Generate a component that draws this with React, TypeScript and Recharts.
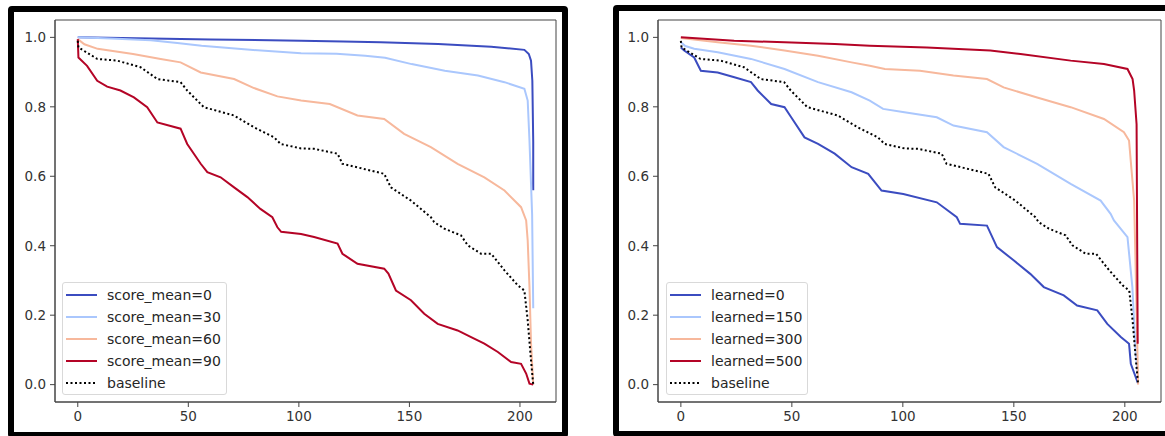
import { LineChart, Line, XAxis, YAxis, ReferenceArea, Legend } from 'recharts';

type Pt = { x: number; y: number };
const pts = (rows: number[][]): Pt[] => rows.map(([x, y]) => ({ x, y }));

// ---- left panel: score_mean ----
const scoreMean0 = pts([
  [0, 1.0], [20, 0.998], [40, 0.996], [60, 0.994], [87, 0.992], [101, 0.99], [120, 0.988],
  [137, 0.986], [163, 0.981], [187, 0.973], [202, 0.964], [204, 0.952], [205, 0.933],
  [205.6, 0.875], [206, 0.7], [206, 0.56],
]);
const scoreMean30 = pts([
  [0, 1.0], [15, 0.997], [33, 0.992], [45, 0.984], [56, 0.976], [78, 0.964], [101, 0.954],
  [117, 0.953], [130, 0.947], [139, 0.941], [151, 0.923], [166, 0.904], [181, 0.89],
  [193, 0.871], [202, 0.852], [203.5, 0.818], [204.3, 0.703], [205.5, 0.49], [206, 0.22],
]);
const scoreMean60 = pts([
  [0, 0.995], [3, 0.98], [9, 0.967], [25, 0.952], [37.5, 0.938], [46.5, 0.928], [55.6, 0.899],
  [70.7, 0.88], [79.7, 0.854], [90.3, 0.83], [101, 0.818], [114, 0.808], [126.5, 0.775],
  [138.6, 0.765], [147.6, 0.722], [159.7, 0.684], [171.8, 0.636], [183.9, 0.597], [193, 0.559],
  [200.5, 0.511], [202.8, 0.473], [203.5, 0.415], [204.3, 0.281], [205, 0.12], [206, 0.0],
]);
const scoreMean90 = pts([
  [0, 0.995], [0.3, 0.942], [4.2, 0.918], [8.8, 0.875], [13.3, 0.858], [19.3, 0.847],
  [25.4, 0.827], [31.4, 0.799], [36, 0.755], [46.5, 0.737], [49.5, 0.693], [55.6, 0.636],
  [58.6, 0.612], [64.6, 0.597], [70.7, 0.568], [76.7, 0.54], [82.6, 0.506], [88, 0.482],
  [90.3, 0.453], [92, 0.44], [101, 0.434], [106.9, 0.425], [117.5, 0.406], [119.7, 0.377],
  [126.5, 0.348], [138.6, 0.334], [140.5, 0.32], [143.9, 0.271], [150.7, 0.243], [156.7, 0.204],
  [162.8, 0.175], [171.8, 0.156], [177.9, 0.137], [183.9, 0.118], [190, 0.094], [196, 0.065],
  [200.5, 0.06], [202.8, 0.032], [204.3, 0.003], [206, 0.0],
]);

// ---- right panel: learned ----
const learned0 = pts([
  [0, 0.971], [1.5, 0.962], [6, 0.942], [9, 0.904], [16.6, 0.899], [24.1, 0.885], [31.6, 0.871],
  [34.6, 0.847], [40.7, 0.808], [46.7, 0.799], [49.7, 0.77], [55.7, 0.712], [61.8, 0.693],
  [69.3, 0.665], [76.9, 0.626], [84.4, 0.607], [90.4, 0.559], [100.2, 0.549], [115.3, 0.525],
  [124.3, 0.482], [125.8, 0.463], [137.9, 0.458], [142.4, 0.396], [149.9, 0.358], [157.4, 0.319],
  [163.5, 0.281], [172.5, 0.257], [178.5, 0.228], [187.6, 0.214], [192.1, 0.175], [198.2, 0.137],
  [201.9, 0.118], [202.7, 0.06], [206, 0.003],
]);
const learned150 = pts([
  [0, 0.986], [2, 0.975], [6, 0.967], [16.6, 0.957], [31.6, 0.938], [46.7, 0.909], [61.8, 0.871],
  [76.9, 0.842], [85.1, 0.818], [91.1, 0.794], [100, 0.785], [115.3, 0.77], [122.8, 0.746],
  [137.9, 0.727], [145.4, 0.684], [160.5, 0.636], [175.6, 0.578], [189.1, 0.53], [193.6, 0.492],
  [195.1, 0.473], [201.2, 0.425], [203.4, 0.281], [204.9, 0.089], [206, 0.02],
]);
const learned300 = pts([
  [0, 0.998], [16.6, 0.986], [31.6, 0.976], [46.7, 0.962], [61.8, 0.947], [76.9, 0.928],
  [85.1, 0.918], [91.9, 0.909], [107.7, 0.904], [122.8, 0.89], [137.9, 0.88], [145.4, 0.856],
  [160.5, 0.827], [175.6, 0.799], [190.6, 0.765], [199.6, 0.727], [201.9, 0.703], [203, 0.62],
  [204.2, 0.53], [205, 0.3], [206, 0.0],
]);
const learned500 = pts([
  [0, 1.0], [24, 0.99], [46.7, 0.986], [69.3, 0.981], [85.1, 0.976], [110.8, 0.971],
  [139.4, 0.962], [153, 0.952], [175.6, 0.933], [190.6, 0.923], [201.2, 0.909], [203.5, 0.88],
  [204.2, 0.847], [205.3, 0.75], [205.8, 0.118],
]);

// shared random baseline
const baseline = pts([
  [0, 0.99], [0.3, 0.971], [8.8, 0.938], [17.8, 0.933], [28.4, 0.914], [36, 0.88], [46.5, 0.871],
  [49.5, 0.847], [57, 0.799], [70.7, 0.775], [79.7, 0.741], [88.8, 0.712], [91.8, 0.693],
  [101, 0.68], [106.9, 0.679], [117.5, 0.665], [119.7, 0.636], [138.6, 0.607], [141.6, 0.568],
  [150.7, 0.53], [159.7, 0.482], [161.2, 0.468], [165.8, 0.449], [173.3, 0.43], [176.4, 0.401],
  [182.4, 0.377], [187, 0.377], [193, 0.329], [199, 0.286], [202, 0.271], [203.5, 0.185],
  [205, 0.07], [206, 0.0],
]);

const xTicks = [0, 50, 100, 150, 200];
const yTicks = [0, 0.2, 0.4, 0.6, 0.8, 1.0];
const X_DOMAIN = [-10.3, 216.3];
const Y_DOMAIN = [-0.05, 1.05];

const COOLWARM = ['#3b4cc0', '#aac7fd', '#f7b89c', '#b40426'];
const FONT = '"DejaVu Sans", sans-serif';

type Series = { name: string; data: Pt[]; color: string; dotted?: boolean };

const leftSeries: Series[] = [
  { name: 'score_mean=0', data: scoreMean0, color: COOLWARM[0] },
  { name: 'score_mean=30', data: scoreMean30, color: COOLWARM[1] },
  { name: 'score_mean=60', data: scoreMean60, color: COOLWARM[2] },
  { name: 'score_mean=90', data: scoreMean90, color: COOLWARM[3] },
  { name: 'baseline', data: baseline, color: '#000', dotted: true },
];
const rightSeries: Series[] = [
  { name: 'learned=0', data: learned0, color: COOLWARM[0] },
  { name: 'learned=150', data: learned150, color: COOLWARM[1] },
  { name: 'learned=300', data: learned300, color: COOLWARM[2] },
  { name: 'learned=500', data: learned500, color: COOLWARM[3] },
  { name: 'baseline', data: baseline, color: '#000', dotted: true },
];

function LegendBox({ series }: { series: Series[] }) {
  return (
    <div
      style={{
        border: '1px solid #d9d9d9',
        borderRadius: 3,
        background: 'rgba(255,255,255,0.8)',
        padding: '1px 0',
        boxSizing: 'border-box',
        height: '100%',
      }}
    >
      {series.map((s) => (
        <div key={s.name} style={{ display: 'flex', alignItems: 'center', height: 22 }}>
          <svg width={31} height={22} style={{ marginLeft: 3, flex: 'none' }}>
            <line
              x1={0}
              x2={31}
              y1={11}
              y2={11}
              stroke={s.color}
              strokeWidth={2}
              strokeDasharray={s.dotted ? '2 2.5' : undefined}
            />
          </svg>
          <span style={{ marginLeft: 10, fontSize: 14, color: '#262626', fontFamily: FONT, whiteSpace: 'nowrap' }}>
            {s.name}
          </span>
        </div>
      ))}
    </div>
  );
}

function Panel({ series, width, legendLeft, legendWidth, marginRight }: {
  series: Series[]; width: number; legendLeft: number; legendWidth: number; marginRight: number;
}) {
  const tickStyle = { fill: '#333', fontSize: 13.5, fontFamily: FONT };
  return (
    <LineChart width={width} height={436} margin={{ top: 20, right: marginRight, left: 0, bottom: 0 }}>
      <XAxis
        type="number"
        dataKey="x"
        domain={X_DOMAIN}
        ticks={xTicks}
        allowDataOverflow
        height={34}
        tickSize={5}
        tickMargin={4}
        stroke="#444"
        tick={tickStyle}
      />
      <YAxis
        type="number"
        dataKey="y"
        domain={Y_DOMAIN}
        ticks={yTicks}
        allowDataOverflow
        width={55}
        tickSize={5}
        tickMargin={4}
        stroke="#444"
        tick={tickStyle}
        tickFormatter={(v: number) => v.toFixed(1)}
      />
      <ReferenceArea
        x1={X_DOMAIN[0]}
        x2={X_DOMAIN[1]}
        y1={Y_DOMAIN[0]}
        y2={Y_DOMAIN[1]}
        fill="none"
        stroke="#444"
        strokeWidth={1}
        ifOverflow="visible"
      />
      {series.map((s) => (
        <Line
          key={s.name}
          data={s.data}
          dataKey="y"
          name={s.name}
          type="linear"
          stroke={s.color}
          strokeWidth={2}
          strokeDasharray={s.dotted ? '2 2.5' : undefined}
          dot={false}
          activeDot={false}
          isAnimationActive={false}
        />
      ))}
      <Legend
        layout="vertical"
        align="center"
        verticalAlign="middle"
        wrapperStyle={{ position: 'absolute', left: legendLeft, top: 282, width: legendWidth, height: 113 }}
        content={() => <LegendBox series={series} />}
      />
    </LineChart>
  );
}

const frameStyle = (left: number, top: number): React.CSSProperties => ({
  position: 'absolute',
  left,
  top,
  width: 560,
  height: 432,
  border: '6px solid #000',
  borderRadius: 4,
  boxSizing: 'border-box',
  background: '#fff',
});

export default function App() {
  return (
    <div
      style={{
        position: 'absolute',
        left: 0,
        top: 0,
        width: 1165,
        height: 436,
        overflow: 'hidden',
        background: '#fff',
        fontFamily: FONT,
      }}
    >
      <div style={frameStyle(8, 6)} />
      <div style={frameStyle(613, 5)} />
      <div style={{ position: 'absolute', left: 0, top: 0 }}>
        <Panel series={leftSeries} width={570} legendLeft={62} legendWidth={165} marginRight={14} />
      </div>
      <div style={{ position: 'absolute', left: 603, top: 0 }}>
        <Panel series={rightSeries} width={562} legendLeft={63} legendWidth={142} marginRight={4} />
      </div>
    </div>
  );
}
